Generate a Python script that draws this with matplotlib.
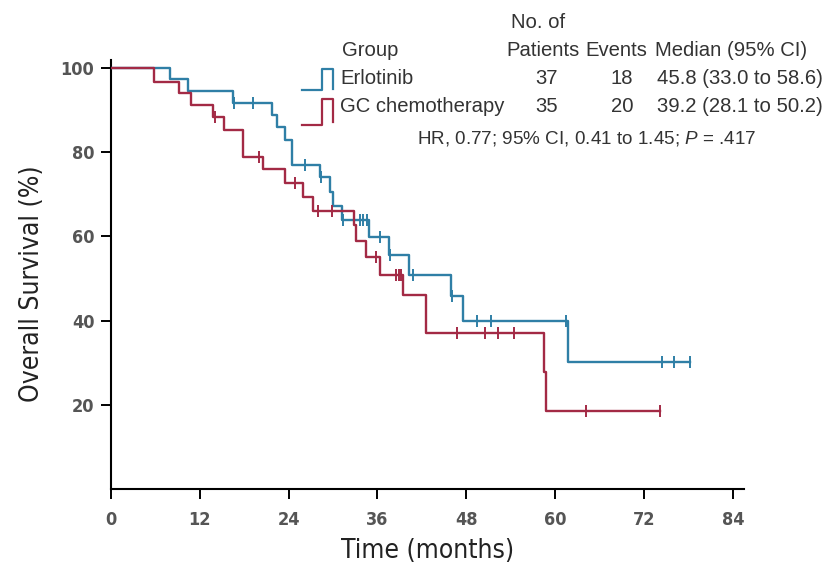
import matplotlib
matplotlib.use("Agg")
import matplotlib.pyplot as plt
from matplotlib import font_manager
import numpy as np

# ---------------- data ----------------
erl_times = [0, 8.0, 10.4, 16.5, 21.7, 22.4, 23.5, 24.4, 28.2, 29.6, 30.0, 31.2, 34.8, 37.5, 40.3, 45.9, 47.6, 61.8, 78.2]
erl_surv = [100, 97.3, 94.6, 91.6, 88.8, 86.0, 82.9, 76.9, 74.1, 70.6, 67.2, 64.0, 59.8, 55.5, 50.8, 45.8, 40.0, 30.1, 30.1]
erl_cens = [16.6, 19.2, 26.2, 28.4, 31.4, 33.6, 34.1, 34.6, 36.4, 37.7, 40.8, 46.1, 49.4, 51.4, 61.5, 74.5, 76.0, 78.2]

gc_times = [0, 5.85, 9.2, 10.8, 13.8, 15.3, 17.9, 20.6, 23.5, 26.0, 27.3, 32.8, 33.1, 34.5, 36.3, 39.4, 42.6, 58.5, 58.8, 74.2]
gc_surv = [100, 96.7, 94.1, 91.3, 88.4, 85.2, 78.9, 75.9, 72.8, 69.3, 66.0, 62.6, 59.0, 55.1, 50.9, 46.2, 37.0, 27.7, 18.6, 18.6]
gc_cens = [14.1, 20.0, 24.8, 28.0, 29.9, 35.8, 38.5, 38.9, 39.2, 46.7, 50.5, 52.3, 54.5, 64.2, 74.2]

x_ticks = [0, 12, 24, 36, 48, 60, 72, 84]
y_ticks = [20, 40, 60, 80, 100]

groups = ["Erlotinib", "GC chemotherapy"]
patients = ["37", "35"]
events = ["18", "20"]
medians = ["45.8 (33.0 to 58.6)", "39.2 (28.1 to 50.2)"]

BLUE = "#2f7fa6"
RED = "#a32a45"

plt.rcParams['mathtext.fontset'] = 'custom'
plt.rcParams['mathtext.rm'] = 'Liberation Sans'
plt.rcParams['mathtext.it'] = 'Liberation Sans:italic'

# find a condensed face if available
cond_file = None
for f in font_manager.findSystemFonts():
    low = f.lower()
    if 'dejavusanscondensed' in low.replace('-', '') and 'bold' not in low and 'oblique' not in low:
        cond_file = f
        break
cond_bold_file = None
for f in font_manager.findSystemFonts():
    low = f.lower().replace('-', '')
    if 'dejavusanscondensedbold' in low and 'oblique' not in low:
        cond_bold_file = f
        break

REG = ['Liberation Sans', 'DejaVu Sans']

if cond_file:
    label_fp = font_manager.FontProperties(fname=cond_file, size=19)
else:
    label_fp = font_manager.FontProperties(family='DejaVu Sans', stretch='condensed', size=18)
if cond_bold_file:
    tick_fp = font_manager.FontProperties(fname=cond_bold_file, size=13)
else:
    tick_fp = font_manager.FontProperties(family='DejaVu Sans', weight='bold', size=12.5)

fig = plt.figure(figsize=(8.22, 5.70), dpi=100)
ax = fig.add_axes([0.135, 0.1421, 0.770, 0.7533])


def surv_at(times, surv, t):
    idx = np.searchsorted(times, t, side='right') - 1
    return surv[idx]


for times, surv, cens, col in [(erl_times, erl_surv, erl_cens, BLUE),
                               (gc_times, gc_surv, gc_cens, RED)]:
    ax.step(times, surv, where='post', color=col, lw=1.7, zorder=3)
    cy = [surv_at(times, surv, c) for c in cens]
    ax.plot(cens, cy, ls='none', marker='|', ms=8, mew=1.4, color=col, zorder=4)

ax.set_xlim(0, 85.5)
ax.set_ylim(0, 102)
ax.set_xticks(x_ticks)
ax.set_yticks(y_ticks)
for s in ['top', 'right']:
    ax.spines[s].set_visible(False)
for s in ['left', 'bottom']:
    ax.spines[s].set_linewidth(1.5)
ax.tick_params(axis='both', direction='out', length=7, width=1.4, colors='black',
               labelcolor='#555555')
ax.tick_params(axis='x', pad=9)
ax.tick_params(axis='y', pad=5)
for lab in ax.get_xticklabels() + ax.get_yticklabels():
    lab.set_fontproperties(tick_fp)

ax.set_xlabel("Time (months)", fontproperties=label_fp, color='#222222')
ax.set_ylabel("Overall Survival (%)", fontproperties=label_fp, color='#222222')
ax.xaxis.set_label_coords(0.5, -0.115)
ax.yaxis.set_label_coords(-0.105, 0.478)

# ---------------- legend table ----------------
def fx(px):
    return px / 822.0


def fy(py):
    return 1 - py / 570.0


tc = '#333333'
fs = 14.6
fig.text(fx(538), fy(23), "No. of", ha='center', va='center', fontsize=fs, family=REG, color=tc)
fig.text(fx(342), fy(50), "Group", ha='left', va='center', fontsize=fs, family=REG, color=tc)
fig.text(fx(580), fy(50), "Patients", ha='right', va='center', fontsize=fs, family=REG, color=tc)
fig.text(fx(647), fy(50), "Events", ha='right', va='center', fontsize=fs, family=REG, color=tc)
fig.text(fx(655), fy(50), "Median (95% CI)", ha='left', va='center', fontsize=fs, family=REG, color=tc)

row_y = [78, 106]
icon_cols = [BLUE, RED]
icon_y = [(90, 68.5, 88.5), (125, 99, 122)]
for i in range(2):
    y = row_y[i]
    fig.text(fx(340), fy(y), groups[i], ha='left', va='center', fontsize=fs, family=REG, color=tc)
    fig.text(fx(558), fy(y), patients[i], ha='right', va='center', fontsize=fs, family=REG, color=tc)
    fig.text(fx(633), fy(y), events[i], ha='right', va='center', fontsize=fs, family=REG, color=tc)
    fig.text(fx(657), fy(y), medians[i], ha='left', va='center', fontsize=fs, family=REG, color=tc)
    yb, yt, ye = icon_y[i]
    xs = [302, 321.5, 321.5, 333, 333]
    ys = [yb, yb, yt, yt, ye]
    fig.add_artist(matplotlib.lines.Line2D([fx(v) for v in xs], [fy(v) for v in ys],
                                           color=icon_cols[i], lw=1.6))

fig.text(fx(587), fy(138), "HR, 0.77; 95% CI, 0.41 to 1.45; $\\it{P}$ = .417",
         ha='center', va='center', fontsize=13.6, family=REG, color=tc)

fig.savefig("out.png", dpi=100, facecolor='white')
